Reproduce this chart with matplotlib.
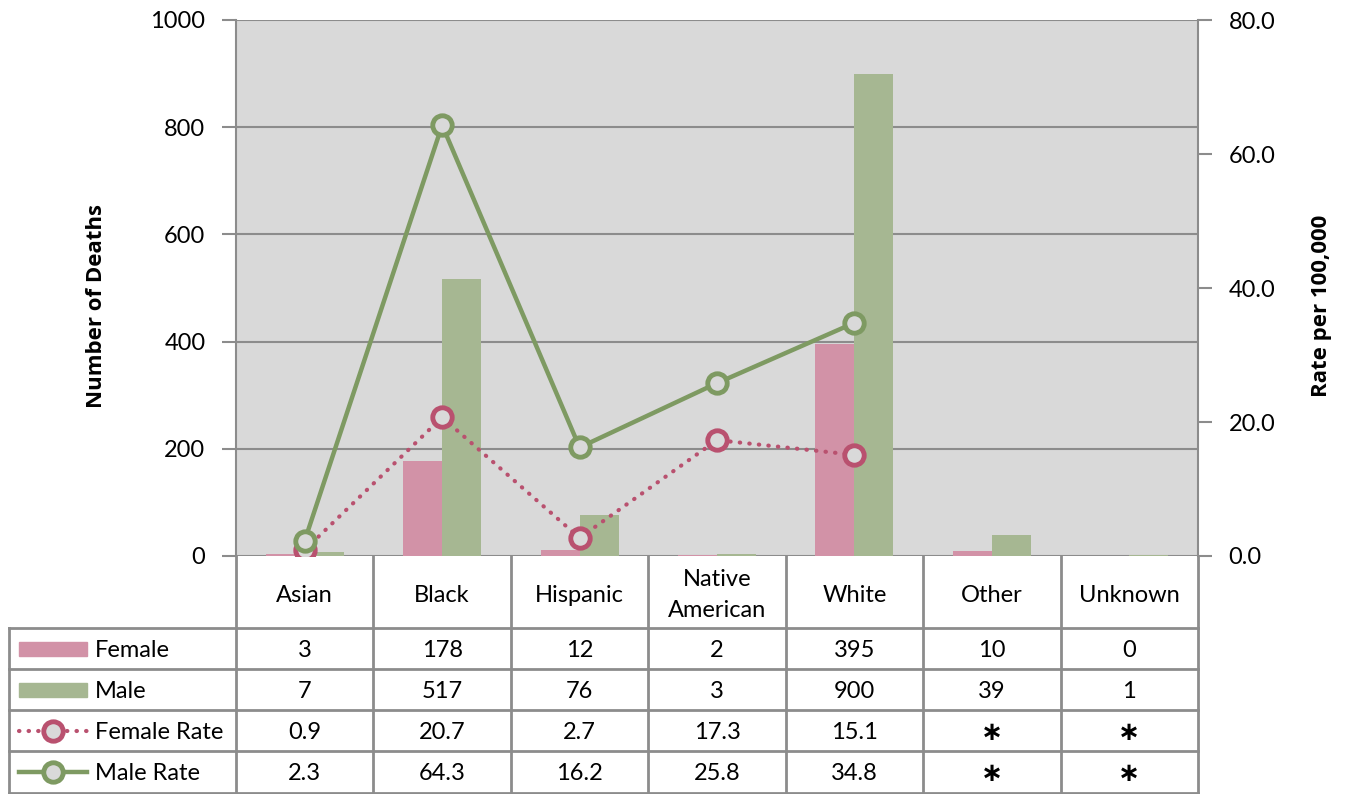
import matplotlib.pyplot as plt
from matplotlib.lines import Line2D
from matplotlib.patches import Rectangle
from matplotlib.transforms import blended_transform_factory
import numpy as np

plt.rcParams['font.family'] = ['Lato', 'DejaVu Sans']

# data
categories = ['Asian', 'Black', 'Hispanic', 'Native\nAmerican', 'White', 'Other', 'Unknown']
female = [3, 178, 12, 2, 395, 10, 0]
male = [7, 517, 76, 3, 900, 39, 1]
female_rate = [0.9, 20.7, 2.7, 17.3, 15.1]
male_rate = [2.3, 64.3, 16.2, 25.8, 34.8]
female_rate_txt = ['0.9', '20.7', '2.7', '17.3', '15.1', '\u2217', '\u2217']
male_rate_txt = ['2.3', '64.3', '16.2', '25.8', '34.8', '\u2217', '\u2217']

c_female = '#D292A7'
c_male = '#A6B792'
c_frate = '#B9516F'
c_mrate = '#7E9A62'
c_grid = '#8C8C8C'
bg = '#D9D9D9'
W, H = 1348, 794
fs = 17

fig = plt.figure(figsize=(W / 100, H / 100), dpi=100)
# plot area in pixels: x 236..1198, y 20..556
ax = fig.add_axes([236 / W, 1 - 556 / H, 962 / W, 536 / H])
ax.set_facecolor(bg)
ax2 = ax.twinx()

x = np.arange(len(categories))
bw = 0.284
ax.bar(x - bw / 2, female, bw, color=c_female, zorder=2)
ax.bar(x + bw / 2, male, bw, color=c_male, zorder=2)

ax.set_xlim(-0.5, len(categories) - 0.5)
ax.set_ylim(0, 1000)
ax.set_yticks(range(0, 1001, 200))
ax.yaxis.grid(True, color=c_grid, lw=1.5, zorder=1)
ax.set_axisbelow(True)
ax.set_xticks([])
ax2.set_ylim(0, 80)
ax2.set_yticks(range(0, 81, 20))
ax2.set_yticklabels([f'{v:.1f}' for v in range(0, 81, 20)])

for a in (ax, ax2):
    for s in a.spines.values():
        s.set_visible(False)
    a.tick_params(axis='y', labelsize=fs, length=10, width=1.5, color=c_grid, pad=12)
ax.spines['left'].set_visible(True)
ax.spines['left'].set_color(c_grid)
ax.spines['left'].set_linewidth(1.5)
ax2.spines['right'].set_visible(True)
ax2.spines['right'].set_color(c_grid)
ax2.spines['right'].set_linewidth(1.5)

n = len(female_rate)
ax2.plot(x[:n], female_rate, color=c_frate, lw=3, ls=(0, (0.1, 2.2)),
         dash_capstyle='round', marker='o', ms=14, mfc=bg, mec=c_frate, mew=3.5, zorder=3)
ax2.plot(x[:n], male_rate, color=c_mrate, lw=3.2, marker='o', ms=14,
         mfc=bg, mec=c_mrate, mew=3.5, zorder=4)

fig.text(97 / W, 1 - 306 / H, 'Number of Deaths', rotation=90, ha='center', va='center',
         fontsize=16, fontweight='bold', family='Open Sans')
fig.text(1322 / W, 1 - 306 / H, 'Rate per 100,000', rotation=90, ha='center', va='center',
         fontsize=16, fontweight='bold', family='Open Sans')

# data table below the plot
def fy(py):
    return 1 - py / H

tr = blended_transform_factory(ax.transData, fig.transFigure)
lk = dict(color=c_grid, lw=2, clip_on=False)
rows = [628, 669, 710, 751, 793]
for i in range(len(categories) + 1):
    fig.add_artist(Line2D([i - 0.5, i - 0.5], [fy(556), fy(793)], transform=tr, **lk))
x_left = 9 / W
for r in rows:
    fig.add_artist(Line2D([x_left, 1198 / W], [fy(r), fy(r)], transform=fig.transFigure, **lk))
fig.add_artist(Line2D([x_left, x_left], [fy(628), fy(793)], transform=fig.transFigure, **lk))

for i, c in enumerate(categories):
    fig.text(i, fy(595), c, transform=tr, ha='center', va='center', fontsize=fs,
             linespacing=1.55)

table_rows = [
    ('Female', [str(v) for v in female]),
    ('Male', [str(v) for v in male]),
    ('Female Rate', female_rate_txt),
    ('Male Rate', male_rate_txt),
]
for k, (name, vals) in enumerate(table_rows):
    yc = fy((rows[k] + rows[k + 1]) / 2 + 2)
    for i, v in enumerate(vals):
        if v == '\u2217':
            fig.text(i, yc, v, transform=tr, ha='center', va='center', fontsize=fs + 2,
                     fontweight='bold', family='DejaVu Sans')
        else:
            fig.text(i, yc, v, transform=tr, ha='center', va='center', fontsize=fs)
    fig.text(95 / W, yc, name, ha='left', va='center', fontsize=fs)

# legend keys in table
for k, col in enumerate([c_female, c_male]):
    yc = (rows[k] + rows[k + 1]) / 2
    fig.add_artist(Rectangle((19 / W, fy(yc + 7)), 68 / W, 14 / H, color=col,
                             transform=fig.transFigure))
yc = fy((rows[2] + rows[3]) / 2)
fig.add_artist(Line2D([19 / W, 87 / W], [yc, yc], color=c_frate, lw=3, ls=(0, (0.1, 2.2)),
                      dash_capstyle='round', transform=fig.transFigure))
fig.add_artist(Line2D([53 / W], [yc], color=c_frate, marker='o', ms=14, mfc=bg,
                      mec=c_frate, mew=3.5, transform=fig.transFigure))
yc = fy((rows[3] + rows[4]) / 2)
fig.add_artist(Line2D([19 / W, 87 / W], [yc, yc], color=c_mrate, lw=3.2,
                      transform=fig.transFigure))
fig.add_artist(Line2D([53 / W], [yc], color=c_mrate, marker='o', ms=14, mfc=bg,
                      mec=c_mrate, mew=3.5, transform=fig.transFigure))

fig.savefig('out.png', dpi=100)
